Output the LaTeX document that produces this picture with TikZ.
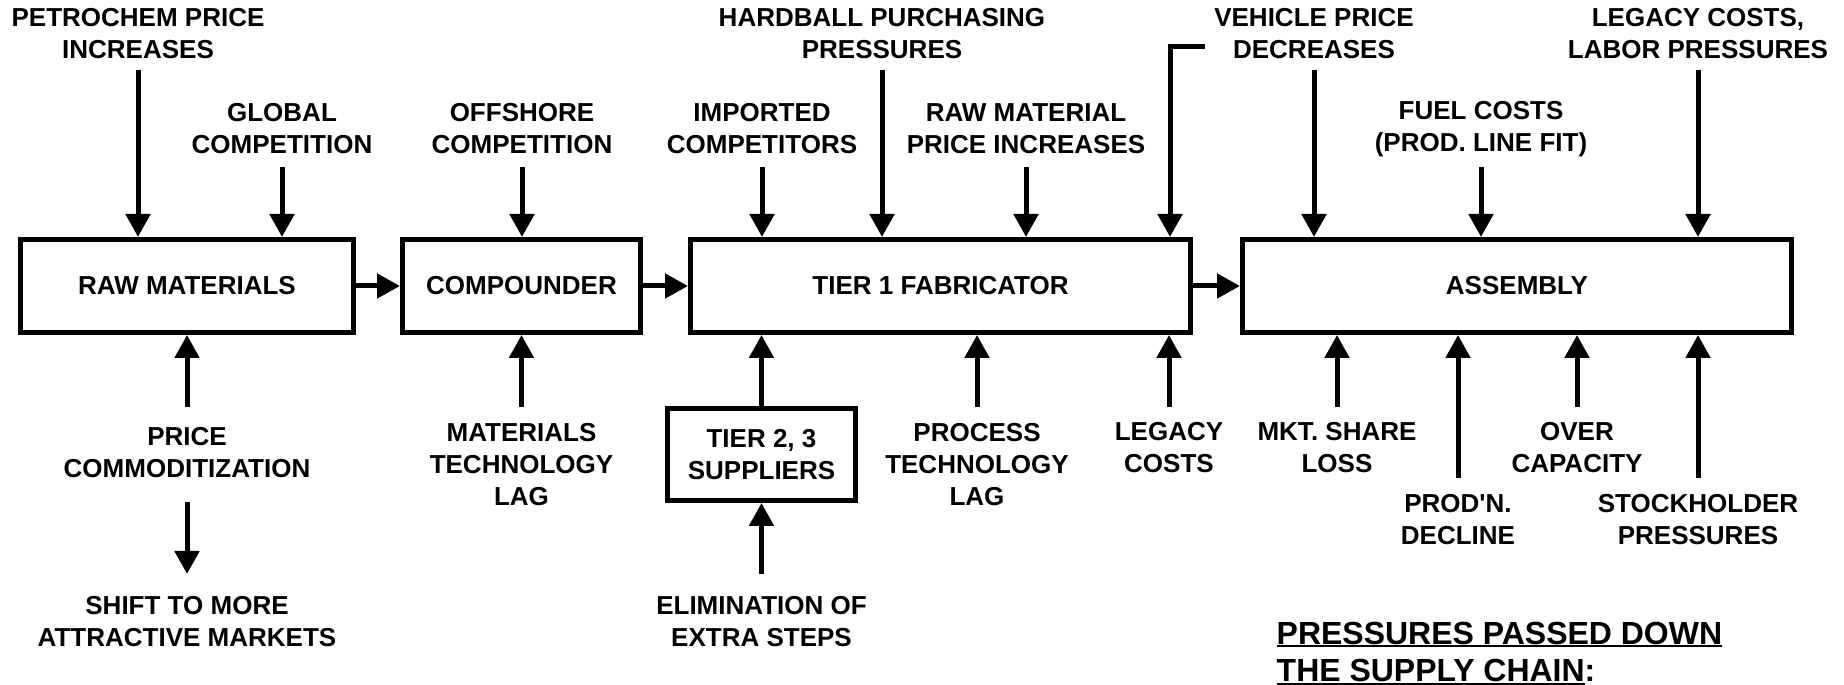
\documentclass[tikz,border=0pt]{standalone}
\usepackage{fontspec}
\setmainfont{Liberation Sans}
\usepackage{tikz}
\usetikzlibrary{arrows.meta,positioning}

\newcommand\ulword[1]{\setbox0\hbox{#1}\rlap{\rule[-0.9pt]{\wd0}{0.6pt}}\box0}

\begin{document}
\begin{tikzpicture}[
  box/.style={draw, line width=0.05cm, align=center, inner sep=0pt, minimum height=0.93cm, font=\fontsize{7.4}{9.1}\selectfont\bfseries},
  lbl/.style={align=center, inner sep=0pt, font=\fontsize{7.4}{9.1}\selectfont\bfseries},
  arr/.style={-{Triangle[length=0.23cm, width=0.24cm]}, line width=0.05cm},
]
  \useasboundingbox (0,0) rectangle (18.44,6.85);

  % Supply chain
  \node[box, minimum width=3.33cm] (raw) at (1.87,3.99) {RAW MATERIALS};
  \node[box, minimum width=2.38cm] (comp) at (5.215,3.99) {COMPOUNDER};
  \node[box, minimum width=5.00cm] (tier1) at (9.405,3.99) {TIER 1 FABRICATOR};
  \node[box, minimum width=5.49cm] (asm) at (15.17,3.99) {ASSEMBLY};
  \node[box, minimum width=1.88cm, minimum height=0.92cm] (tier23) at (7.615,2.305) {TIER 2, 3\\SUPPLIERS};

  \draw[arr] (raw) -- (comp);
  \draw[arr] (comp) -- (tier1);
  \draw[arr] (tier1) -- (asm);
  \draw[arr] (tier23.north) -- (tier23 |- tier1.south);

  % Rows where the arrow tails start
  \coordinate (hi) at (0,6.15);
  \coordinate (mid) at (0,5.18);
  \coordinate (lo) at (0,2.78);
  \coordinate (lo2) at (0,2.07);
  \coordinate (dn) at (0,1.83);
  \coordinate (dn2) at (0,1.11);

  % Pressures from above
  \node[lbl] (petro) at (1.38,6.51) {PETROCHEM PRICE\\INCREASES};
  \node[lbl] (global) at (2.82,5.56) {GLOBAL\\COMPETITION};
  \node[lbl] (offshore) at (5.22,5.56) {OFFSHORE\\COMPETITION};
  \node[lbl] (imported) at (7.62,5.56) {IMPORTED\\COMPETITORS};
  \node[lbl] (hardball) at (8.82,6.51) {HARDBALL PURCHASING\\PRESSURES};
  \node[lbl] (rawprice) at (10.26,5.56) {RAW MATERIAL\\PRICE INCREASES};
  \node[lbl] (vehicle) at (13.14,6.51) {VEHICLE PRICE\\DECREASES};
  \node[lbl] (fuel) at (14.81,5.56) {FUEL COSTS\\(PROD. LINE FIT)};
  \node[lbl] (labor) at (16.98,6.51) {LEGACY COSTS,\\LABOR PRESSURES};
  \coordinate (elb) at (12.05,6.38);

  \draw[arr] (petro |- hi) -- (petro |- raw.north);
  \draw[arr] (global |- mid) -- (global |- raw.north);
  \draw[arr] (offshore |- mid) -- (offshore |- comp.north);
  \draw[arr] (imported |- mid) -- (imported |- tier1.north);
  \draw[arr] (hardball |- hi) -- (hardball |- tier1.north);
  \draw[arr] (rawprice |- mid) -- (rawprice |- tier1.north);
  \draw[arr] (elb) -| ([xshift=-0.23cm]tier1.north east);
  \draw[arr] (vehicle |- hi) -- (vehicle |- asm.north);
  \draw[arr] (fuel |- mid) -- (fuel |- asm.north);
  \draw[arr] (labor |- hi) -- (labor |- asm.north);

  % Pressures from below
  \node[lbl] (pricecom) at (1.87,2.32) {PRICE\\COMMODITIZATION};
  \node[lbl] (shift) at (1.87,0.635) {SHIFT TO MORE\\ATTRACTIVE MARKETS};
  \node[lbl] (mattech) at (5.215,2.20) {MATERIALS\\TECHNOLOGY\\LAG};
  \node[lbl] (elim) at (7.615,0.635) {ELIMINATION OF\\EXTRA STEPS};
  \node[lbl] (proctech) at (9.77,2.20) {PROCESS\\TECHNOLOGY\\LAG};
  \node[lbl] (legacy) at (11.69,2.375) {LEGACY\\COSTS};
  \node[lbl] (mkt) at (13.37,2.375) {MKT. SHARE\\LOSS};
  \node[lbl] (prodn) at (14.58,1.655) {PROD\textquotesingle N.\\DECLINE};
  \node[lbl] (over) at (15.77,2.375) {OVER\\CAPACITY};
  \node[lbl] (stock) at (16.98,1.655) {STOCKHOLDER\\PRESSURES};

  \draw[arr] (pricecom |- lo) -- (pricecom |- raw.south);
  \draw[arr] (pricecom |- dn) -- (shift |- dn2);
  \draw[arr] (mattech |- lo) -- (mattech |- comp.south);
  \draw[arr] (elim |- dn2) -- (tier23.south);
  \draw[arr] (proctech |- lo) -- (proctech |- tier1.south);
  \draw[arr] (legacy |- lo) -- (legacy |- tier1.south);
  \draw[arr] (mkt |- lo) -- (mkt |- asm.south);
  \draw[arr] (prodn |- lo2) -- (prodn |- asm.south);
  \draw[arr] (over |- lo) -- (over |- asm.south);
  \draw[arr] (stock |- lo2) -- (stock |- asm.south);

  % Heading
  \node[anchor=north west, align=left, inner sep=0pt, font=\fontsize{9.1}{10.8}\selectfont\bfseries] (note) at (12.76,0.64)
    {\ulword{PRESSURES PASSED DOWN}\\\ulword{THE SUPPLY CHAIN}:};
\end{tikzpicture}
\end{document}
